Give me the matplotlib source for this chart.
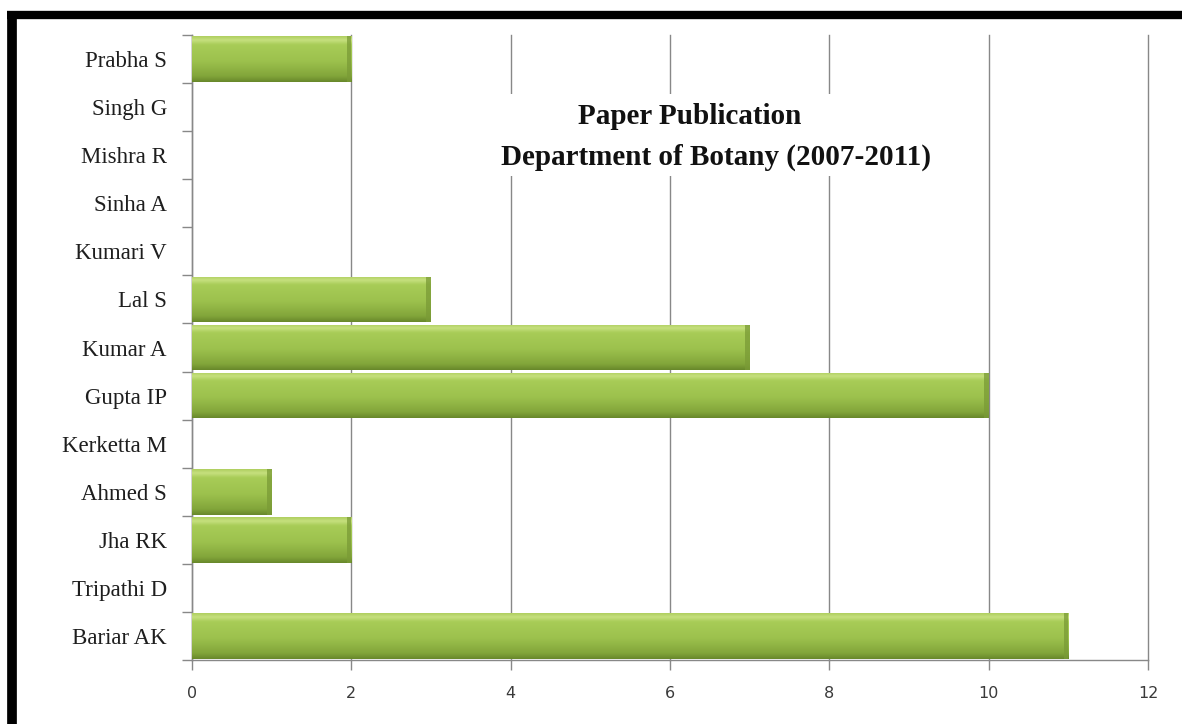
import matplotlib
matplotlib.use("Agg")
import matplotlib.pyplot as plt
import numpy as np
from matplotlib.lines import Line2D
from matplotlib.colors import LinearSegmentedColormap
from matplotlib.patches import Rectangle

names = ["Bariar AK", "Tripathi D", "Jha RK", "Ahmed S", "Kerketta M", "Gupta IP",
         "Kumar A", "Lal S", "Kumari V", "Sinha A", "Mishra R", "Singh G", "Prabha S"]
papers = [11, 0, 2, 1, 0, 10, 7, 3, 0, 0, 0, 0, 2]
xticks = [0, 2, 4, 6, 8, 10, 12]
title_line1 = "Paper Publication"
title_line2 = "Department of Botany (2007-2011)"

W, H = 1182, 724
fig = plt.figure(figsize=(W / 100, H / 100), dpi=100)
fig.patch.set_facecolor("white")
ax = fig.add_axes([192 / W, 1 - 660 / H, (1148 - 192) / W, (660 - 35) / H])

ypos = np.arange(len(names))
bar_h = 0.95
bars = ax.barh(ypos, papers, height=bar_h, color="#9dc24e", edgecolor="none", zorder=3)

cmap = LinearSegmentedColormap.from_list(
    "g", [(0.0, "#68882b"), (0.12, "#82a53a"), (0.45, "#9cc14d"), (0.82, "#a8cc57"),
          (0.92, "#c6e07f"), (1.0, "#b0cf60")])
grad = np.linspace(0, 1, 64).reshape(-1, 1)
for b in bars:
    w = b.get_width()
    if w <= 0:
        continue
    y0 = b.get_y()
    h = b.get_height()
    im = ax.imshow(grad, cmap=cmap, aspect="auto", origin="lower",
                   extent=[0, w, y0, y0 + h], zorder=3, interpolation="bicubic")
    im.set_clip_path(b)
    ax.add_patch(Rectangle((w - 0.06, y0), 0.06, h, facecolor="#7a9b36",
                           edgecolor="none", zorder=4, alpha=0.75))

ax.set_xlim(0, 12)
ax.set_ylim(-0.5, len(names) - 0.5)
ax.set_xticks(xticks)
ax.set_xticklabels([str(v) for v in xticks], fontfamily="DejaVu Sans", fontsize=11.5, color="#3a3a3a")
ax.set_yticks(ypos)
ax.set_yticklabels(names, fontfamily="Liberation Serif", fontsize=16.5, color="#1e1e1e")
ax.set_yticks(np.arange(-0.5, len(names), 1), minor=True)
ax.tick_params(axis="y", which="major", length=0, pad=18)
ax.tick_params(axis="y", which="minor", length=7, width=1, color="#888888", direction="out")
ax.tick_params(axis="x", which="major", length=7, width=1, color="#888888", direction="out", pad=12)

ax.grid(axis="x", color="#888888", linewidth=1, zorder=0)
for gl in ax.get_xgridlines():
    gl.set_clip_on(False)
ax.set_axisbelow(True)
for s in ["top", "right"]:
    ax.spines[s].set_visible(False)
for s in ["left", "bottom"]:
    ax.spines[s].set_color("#888888")
    ax.spines[s].set_linewidth(1)

# white title box interrupting the gridlines
ax.add_patch(Rectangle((455 / W, 1 - 176 / H), (985 - 455) / W, (176 - 94) / H,
                       transform=fig.transFigure, facecolor="white", edgecolor="none", zorder=2))
fig.text(690 / W, 1 - 117 / H, title_line1, ha="center", va="center",
         fontfamily="Liberation Serif", fontweight="bold", fontsize=21, color="#111111")
fig.text(716 / W, 1 - 157 / H, title_line2, ha="center", va="center",
         fontfamily="Liberation Serif", fontweight="bold", fontsize=21, color="#111111")

# Thick black frame (top and left)
fig.add_artist(Line2D([7 / W, 1.0], [1 - 15 / H, 1 - 15 / H], color="black", linewidth=6, solid_capstyle="butt"))
fig.add_artist(Line2D([12 / W, 12 / W], [0.0, 1 - 11 / H], color="black", linewidth=7, solid_capstyle="butt"))

fig.savefig("out.png", dpi=100)
